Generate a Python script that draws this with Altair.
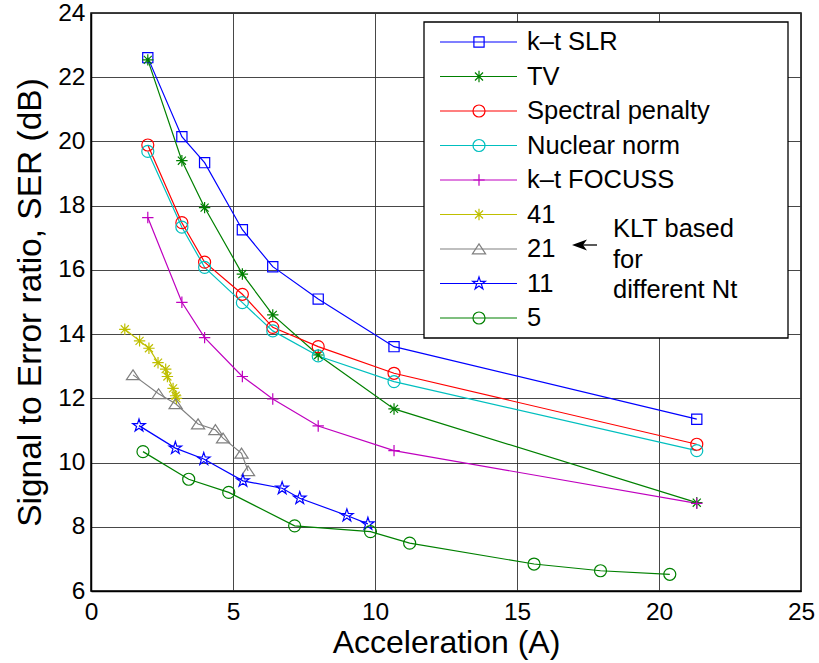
import math
import altair as alt
import pandas as pd

# ---------------- data ----------------
series_names = ["k\u2013t SLR", "TV", "Spectral penalty", "Nuclear norm",
                "k\u2013t FOCUSS", "41", "21", "11", "5"]

accel = [2, 3.2, 4, 5.33, 6.4, 8, 10.67, 21.33]
ser_slr = [22.61, 20.15, 19.34, 17.25, 16.10, 15.09, 13.61, 11.35]
ser_tv = [22.54, 19.40, 17.94, 15.87, 14.60, 13.35, 11.67, 8.75]
ser_spec = [19.89, 17.47, 16.24, 15.24, 14.21, 13.61, 12.78, 10.57]
ser_nuc = [19.69, 17.33, 16.08, 14.98, 14.10, 13.32, 12.52, 10.37]
ser_focuss = [17.63, 14.99, 13.89, 12.68, 11.98, 11.14, 10.37, 8.73]

nt41_x = [1.19, 1.71, 2.04, 2.36, 2.63, 2.69, 2.89, 2.98, 3.01]
nt41_y = [14.15, 13.79, 13.56, 13.11, 12.91, 12.68, 12.31, 12.08, 12.00]
nt21_x = [1.48, 2.38, 2.98, 3.77, 4.38, 4.65, 5.30, 5.53]
nt21_y = [12.73, 12.14, 11.83, 11.20, 11.02, 10.76, 10.29, 9.74]
nt11_x = [1.69, 2.97, 3.97, 5.35, 6.73, 7.35, 9.01, 9.75]
nt11_y = [11.15, 10.45, 10.11, 9.43, 9.20, 8.89, 8.35, 8.09]
nt5_x = [1.83, 3.44, 4.85, 7.17, 9.84, 11.22, 15.60, 17.94, 20.38]
nt5_y = [10.34, 9.48, 9.07, 8.03, 7.85, 7.49, 6.84, 6.63, 6.52]

annotation_lines = ["KLT based", "for", "different Nt"]

# ---------------- styles ----------------
colors = ["#0000ff", "#008000", "#ff0000", "#00bfbf", "#bf00bf",
          "#bfbf00", "#808080", "#0000ff", "#008000"]


def star_path(r_out=1.1, r_in=0.42):
    pts = []
    for k in range(10):
        a = math.radians(-90 + 36 * k)
        r = r_out if k % 2 == 0 else r_in
        pts.append(f"{r*math.cos(a):.3f},{r*math.sin(a):.3f}")
    return "M" + "L".join(pts) + "Z"


SQUARE = "M-0.85,-0.85L0.85,-0.85L0.85,0.85L-0.85,0.85Z"
ASTER = "M-0.95,0L0.95,0M0,-0.95L0,0.95M-0.67,-0.67L0.67,0.67M-0.67,0.67L0.67,-0.67"
CIRCLE = "M1,0A1,1,0,1,1,-1,0A1,1,0,1,1,1,0Z"
PLUS = "M-0.95,0L0.95,0M0,-0.95L0,0.95"
TRI = "M0,-0.85L1.1,0.8L-1.1,0.8Z"
STAR = star_path()
shapes = [SQUARE, ASTER, CIRCLE, CIRCLE, PLUS, ASTER, TRI, STAR, CIRCLE]

# ---------------- build table ----------------
rows = []
for name, ys in zip(series_names[:5], [ser_slr, ser_tv, ser_spec, ser_nuc, ser_focuss]):
    for a, v in zip(accel, ys):
        rows.append({"series": name, "A": a, "SER": v})
for name, xs, ys in zip(series_names[5:], [nt41_x, nt21_x, nt11_x, nt5_x],
                        [nt41_y, nt21_y, nt11_y, nt5_y]):
    for a, v in zip(xs, ys):
        rows.append({"series": name, "A": a, "SER": v})
df = pd.DataFrame(rows)

FONT = "Liberation Sans"
color_scale = alt.Scale(domain=series_names, range=colors)
shape_scale = alt.Scale(domain=series_names, range=shapes)

base = alt.Chart(df)
xenc = alt.X("A:Q", title="Acceleration (A)",
             scale=alt.Scale(domain=[0, 25], nice=False),
             axis=alt.Axis(values=[0, 5, 10, 15, 20, 25], labelPadding=9,
                           labelFlush=False, titlePadding=4, titleFontSize=32))
yenc = alt.Y("SER:Q", title="Signal to Error ratio, SER (dB)",
             scale=alt.Scale(domain=[6, 24], nice=False),
             axis=alt.Axis(values=list(range(6, 25, 2)), labelPadding=6,
                           labelFlush=False, titlePadding=10, titleFontSize=33.5))

lines = base.mark_line(strokeWidth=1.2).encode(
    x=xenc, y=yenc,
    color=alt.Color("series:N", scale=color_scale, legend=None),
    detail="series:N",
)
points = base.mark_point(filled=False, strokeWidth=1.2, size=144, opacity=1).encode(
    x="A:Q", y="SER:Q",
    color=alt.Color("series:N", scale=color_scale, legend=None),
    shape=alt.Shape("series:N", scale=shape_scale, legend=None),
)

# ---------------- legend (drawn as marks) ----------------
leg_df = pd.DataFrame({"series": series_names, "idx": list(range(len(series_names)))})
leg = alt.Chart(leg_df).transform_calculate(ly="29 + datum.idx * 34.5")

box = alt.Chart(pd.DataFrame({"k": [0]})).mark_rect(
    fill="white", stroke="black", strokeWidth=1.3
).encode(x=alt.value(333), x2=alt.value(697), y=alt.value(9), y2=alt.value(325))

leg_lines = leg.mark_rule(strokeWidth=1.2).encode(
    x=alt.value(349), x2=alt.value(426),
    y=alt.Y("ly:Q", scale=None, axis=None),
    color=alt.Color("series:N", scale=color_scale, legend=None),
)
leg_pts = leg.mark_point(filled=False, strokeWidth=1.2, size=144, opacity=1).encode(
    x=alt.value(388),
    y=alt.Y("ly:Q", scale=None, axis=None),
    color=alt.Color("series:N", scale=color_scale, legend=None),
    shape=alt.Shape("series:N", scale=shape_scale, legend=None),
)
leg_text = leg.mark_text(align="left", baseline="middle", fontSize=25.5, font=FONT,
                         color="black").encode(
    x=alt.value(436),
    y=alt.Y("ly:Q", scale=None, axis=None),
    text="series:N",
)

note = alt.Chart(pd.DataFrame({"k": [0]})).mark_text(
    align="left", baseline="alphabetic", fontSize=25.5, font=FONT, color="black",
    lineHeight=30.5
).encode(x=alt.value(522), y=alt.value(224), text=alt.value(annotation_lines))

arrow_line = alt.Chart(pd.DataFrame({"k": [0]})).mark_rule(
    color="black", strokeWidth=1.3
).encode(x=alt.value(485), x2=alt.value(506), y=alt.value(232))
arrow_head = alt.Chart(pd.DataFrame({"k": [0]})).mark_point(
    filled=True, color="black", opacity=1, size=400,
    shape="M-1,0L0.5,-0.55L0.1,0L0.5,0.55Z"
).encode(x=alt.value(491), y=alt.value(232))

chart = alt.layer(
    lines, points, box, leg_lines, leg_pts, leg_text, note, arrow_line, arrow_head
).properties(
    width=710, height=578,
    padding={"left": 91, "top": 13, "right": 18, "bottom": 72},
    autosize=alt.AutoSizeParams(type="none"),
    background="white",
).configure_view(
    stroke="black", strokeWidth=1.5
).configure_axis(
    labelFont=FONT, titleFont=FONT, labelFontSize=24.5,
    labelColor="black", titleColor="black", titleFontWeight="normal",
    grid=True, gridColor="#333333", gridWidth=1, gridOpacity=0.9,
    ticks=False, domainColor="black", domainWidth=1.5,
)

chart.save("out.html", embed_options={"renderer": "svg", "actions": False})
